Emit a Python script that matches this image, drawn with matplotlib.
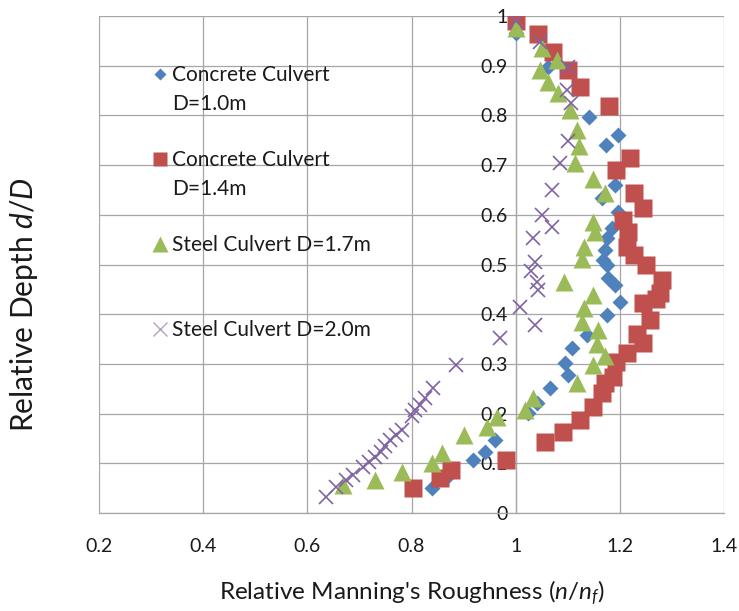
import matplotlib
matplotlib.use("Agg")
import matplotlib.pyplot as plt
from matplotlib.lines import Line2D
import numpy as np

plt.rcParams['font.family'] = ['Lato', 'DejaVu Sans']
plt.rcParams['mathtext.fontset'] = 'custom'
plt.rcParams['mathtext.rm'] = 'Lato'
plt.rcParams['mathtext.it'] = 'Lato:italic'

# ---------------- data ----------------
conc10_x = [1.0, 1.062, 1.14, 1.197, 1.173, 1.191, 1.165, 1.197, 1.184, 1.175, 1.172, 1.168,
            1.175, 1.178, 1.191, 1.20, 1.175, 1.137, 1.109, 1.094, 1.10, 1.066, 1.04, 1.024,
            0.96, 0.941, 0.919, 0.868, 0.839]
conc10_y = [0.965, 0.898, 0.797, 0.761, 0.741, 0.66, 0.634, 0.606, 0.573, 0.553, 0.529, 0.509,
            0.499, 0.472, 0.459, 0.425, 0.398, 0.358, 0.331, 0.301, 0.277, 0.251, 0.221, 0.201,
            0.147, 0.123, 0.107, 0.073, 0.05]

conc14_x = [1.0, 1.043, 1.072, 1.10, 1.123, 1.18, 1.219, 1.193, 1.228, 1.245, 1.207, 1.216,
            1.214, 1.228, 1.251, 1.28, 1.277, 1.245, 1.27, 1.257, 1.232, 1.245, 1.214, 1.193,
            1.187, 1.171, 1.165, 1.149, 1.123, 1.091, 1.056, 0.981, 0.876, 0.854, 0.803]
conc14_y = [0.99, 0.963, 0.928, 0.891, 0.858, 0.819, 0.714, 0.69, 0.643, 0.613, 0.589, 0.566,
            0.536, 0.519, 0.499, 0.469, 0.442, 0.422, 0.43, 0.388, 0.361, 0.342, 0.321, 0.304,
            0.274, 0.261, 0.241, 0.213, 0.187, 0.163, 0.143, 0.106, 0.087, 0.07, 0.05]

steel17_x = [1.0, 1.05, 1.08, 1.047, 1.063, 1.082, 1.104, 1.117, 1.122, 1.114, 1.149, 1.172,
             1.149, 1.152, 1.132, 1.127, 1.092, 1.149, 1.132, 1.128, 1.159, 1.156, 1.172, 1.149,
             1.117, 1.034, 1.018, 0.964, 0.944, 0.90, 0.858, 0.839, 0.781, 0.73, 0.669]
steel17_y = [0.975, 0.935, 0.911, 0.891, 0.868, 0.845, 0.811, 0.771, 0.738, 0.704, 0.673, 0.643,
             0.586, 0.566, 0.536, 0.512, 0.465, 0.439, 0.412, 0.385, 0.368, 0.341, 0.315, 0.298,
             0.261, 0.231, 0.207, 0.194, 0.174, 0.157, 0.12, 0.10, 0.083, 0.066, 0.056]

steel20_x = [1.0, 1.047, 1.101, 1.099, 1.107, 1.10, 1.085, 1.069, 1.05, 1.069, 1.034, 1.037,
             1.03, 1.04, 1.043, 1.008, 1.037, 0.97, 0.886, 0.842, 0.826, 0.816, 0.807, 0.80,
             0.781, 0.771, 0.758, 0.75, 0.742, 0.729, 0.719, 0.706, 0.687, 0.674, 0.655, 0.636]
steel20_y = [0.99, 0.948, 0.898, 0.851, 0.824, 0.748, 0.705, 0.65, 0.60, 0.576, 0.553, 0.506,
             0.486, 0.465, 0.449, 0.415, 0.378, 0.352, 0.298, 0.251, 0.231, 0.217, 0.207, 0.195,
             0.167, 0.157, 0.147, 0.135, 0.123, 0.113, 0.103, 0.093, 0.076, 0.066, 0.053, 0.033]

series_labels = ["Concrete Culvert\nD=1.0m", "Concrete Culvert\nD=1.4m",
                 "Steel Culvert D=1.7m", "Steel Culvert D=2.0m"]
x_ticks = [0.2, 0.4, 0.6, 0.8, 1.0, 1.2, 1.4]
x_tick_labels = ["0.2", "0.4", "0.6", "0.8", "1", "1.2", "1.4"]
y_ticks = [0, 0.1, 0.2, 0.3, 0.4, 0.5, 0.6, 0.7, 0.8, 0.9, 1.0]
y_tick_labels = ["0", "0.1", "0.2", "0.3", "0.4", "0.5", "0.6", "0.7", "0.8", "0.9", "1"]

# ---------------- figure ----------------
fig = plt.figure(figsize=(7.39, 6.11), dpi=100)
ax = fig.add_axes([99/739, 1-513/611, 625/739, 497/611])

c_blue, c_red, c_green, c_purple = "#4F81BD", "#C0504D", "#9BBB59", "#8064A2"
grid_c = "#A6A6A6"
txt_c = "#1a1a1a"

ax.plot(conc10_x, conc10_y, ls='none', marker='D', ms=8, mfc=c_blue, mec='none', zorder=3)
ax.plot(conc14_x, conc14_y, ls='none', marker='s', ms=12.5, mfc=c_red, mec='none', zorder=4)
ax.plot(steel17_x, steel17_y, ls='none', marker='^', ms=13, mfc=c_green, mec='none', zorder=5)
ax.plot(steel20_x, steel20_y, ls='none', marker='x', ms=10.5, mew=1.2, color=c_purple, zorder=6)

ax.set_xlim(0.2, 1.4)
ax.set_ylim(0, 1)
ax.set_xticks(x_ticks)
ax.set_xticklabels(x_tick_labels)
ax.set_yticks(y_ticks)
ax.set_yticklabels(y_tick_labels)

ax.grid(True, color=grid_c, lw=0.9, zorder=0)
ax.set_axisbelow(True)
for s in ['top', 'right']:
    ax.spines[s].set_visible(False)
ax.spines['left'].set_position(('data', 1.0))
ax.spines['left'].set_color(grid_c)
ax.spines['bottom'].set_color(grid_c)
ax.spines['left'].set_linewidth(0.9)
ax.spines['bottom'].set_linewidth(0.9)
ax.tick_params(axis='both', length=0, labelsize=14, colors=txt_c)
ax.tick_params(axis='x', pad=18)
ax.tick_params(axis='y', pad=6)

ax.set_xlabel("Relative Manning's Roughness ($n$/$n_f$)", fontsize=17.5, labelpad=17, color=txt_c)
ax.set_ylabel("Relative Depth $d$/$D$", fontsize=21.5, color=txt_c)
ax.yaxis.set_label_coords(-0.094, 0.42)

# legend with spacer rows so that each key sits at the first text line
blank = Line2D([], [], ls='none', marker=None)
handles = [
    Line2D([], [], ls='none', marker='D', ms=6.5, mfc=c_blue, mec='none'),
    blank, blank,
    Line2D([], [], ls='none', marker='s', ms=10, mfc=c_red, mec='none'),
    blank, blank,
    Line2D([], [], ls='none', marker='^', ms=11, mfc=c_green, mec='none'),
    blank, blank,
    Line2D([], [], ls='none', marker='x', ms=10, mew=1.0, color='#B3A2C7'),
]
l1 = series_labels[0].split("\n")
l2 = series_labels[1].split("\n")
labels = [l1[0], l1[1], " ", l2[0], l2[1], " ", series_labels[2], " ", " ", series_labels[3]]
leg = ax.legend(handles, labels, loc='upper left', bbox_to_anchor=(0.0876, 0.901),
                frameon=False, borderpad=0, borderaxespad=0, handlelength=0.6,
                handletextpad=0.3, labelspacing=0.40, fontsize=15)
for t in leg.get_texts():
    t.set_color(txt_c)

fig.savefig("out.png", dpi=100)
